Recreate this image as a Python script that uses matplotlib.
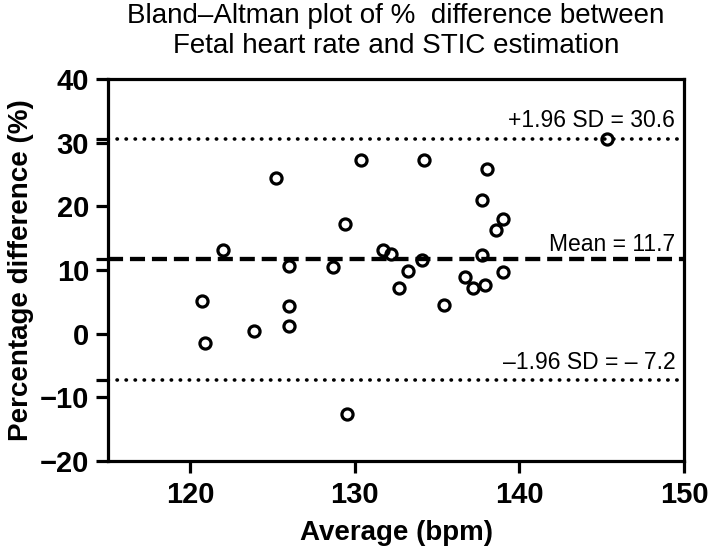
import matplotlib
matplotlib.use("Agg")
import matplotlib.pyplot as plt

plt.rcParams['font.family'] = ['Liberation Sans', 'DejaVu Sans']

# Data
avg_bpm = [130.4, 125.2, 129.4, 122.0, 131.7, 132.2, 133.2, 126.0, 128.7, 132.7,
           120.7, 126.0, 126.0, 123.9, 120.9, 129.5, 134.2, 138.0, 137.7, 139.0,
           138.6, 134.1, 137.7, 136.7, 137.2, 137.9, 139.0, 135.4, 145.3]
pct_diff = [27.3, 24.4, 17.2, 13.2, 13.2, 12.5, 9.9, 10.7, 10.5, 7.1,
            5.1, 4.3, 1.2, 0.4, -1.4, -12.6, 27.3, 25.8, 21.0, 18.0,
            16.3, 11.6, 12.4, 8.9, 7.1, 7.6, 9.7, 4.5, 30.6]
mean_diff = 11.7
upper_loa = 30.6
lower_loa = -7.2
x_ticks = [120, 130, 140, 150]
y_ticks = [-20, -10, 0, 10, 20, 30, 40]

fig = plt.figure(figsize=(7.09, 5.50), dpi=100)
ax = fig.add_axes([108/709, 89/550, 576/709, 382/550])

dot_style = (0, (0.1, 2.4))
ax.axhline(upper_loa, color='black', lw=2.6, linestyle=dot_style,
           dash_capstyle='round', zorder=2)
ax.axhline(lower_loa, color='black', lw=2.6, linestyle=dot_style,
           dash_capstyle='round', zorder=2)
ax.axhline(mean_diff, color='black', lw=3.1, linestyle=(0, (3.5, 1.6)),
           dash_capstyle='butt', zorder=2)

ax.plot(avg_bpm, pct_diff, linestyle='none', marker='o', markersize=8.0,
        markerfacecolor='none', markeredgecolor='black', markeredgewidth=2.3,
        zorder=3)

ax.set_xlim(115, 150)
ax.set_ylim(-20, 40)
ax.set_xticks(x_ticks)
ax.set_yticks(y_ticks)
ax.set_yticks([upper_loa, mean_diff, lower_loa], minor=True)
ax.tick_params(axis='both', which='major', length=8.5, width=2.3,
               labelsize=21, color='black')
ax.tick_params(axis='y', which='major', pad=5)
ax.tick_params(axis='x', which='major', pad=6)
ax.tick_params(axis='y', which='minor', length=8.5, width=2.3, labelleft=False)
for lab in ax.get_xticklabels() + ax.get_yticklabels():
    lab.set_fontweight('bold')
for sp in ax.spines.values():
    sp.set_linewidth(2.3)
    sp.set_color('black')

ax.set_xlabel('Average (bpm)', fontsize=20, fontweight='bold', labelpad=8)
ax.set_ylabel('Percentage difference (%)', fontsize=20, fontweight='bold', labelpad=4)

ax.text(0.985, upper_loa + 1.8, '+1.96 SD = 30.6', transform=ax.get_yaxis_transform(),
        ha='right', va='baseline', fontsize=16.5)
ax.text(0.985, mean_diff + 1.3, 'Mean = 11.7', transform=ax.get_yaxis_transform(),
        ha='right', va='baseline', fontsize=16.5)
ax.text(0.985, lower_loa + 1.7, '\u20131.96 SD = \u2013 7.2', transform=ax.get_yaxis_transform(),
        ha='right', va='baseline', fontsize=16.5)

fig.text(396/709, 1 - 53/550,
         'Bland\u2013Altman plot of %  difference between\nFetal heart rate and STIC estimation',
         ha='center', va='baseline', multialignment='center', fontsize=20)

fig.savefig('out.png', dpi=100)
